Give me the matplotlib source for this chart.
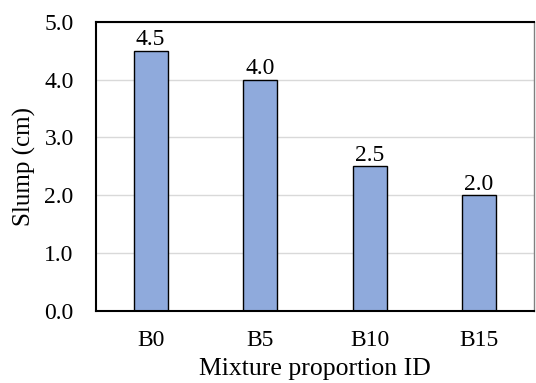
import matplotlib.pyplot as plt

plt.rcParams['font.family'] = ['Liberation Serif', 'DejaVu Serif']

mixes = ['B0', 'B5', 'B10', 'B15']
slump = [4.5, 4.0, 2.5, 2.0]

fig = plt.figure(figsize=(5.36, 3.83), dpi=100)
ax = fig.add_axes([0.179, 0.188, 0.817, 0.755])

ax.grid(axis='y', color='#d9d9d9', linewidth=1)
ax.set_axisbelow(True)
bars = ax.bar(mixes, slump, width=0.31, color='#8faadc', edgecolor='black', linewidth=1)
for b, v in zip(bars, slump):
    ax.text(b.get_x() + b.get_width() / 2, v + 0.01, f'{v:.1f}', ha='center', va='bottom', fontsize=17)

ax.set_ylim(0, 5)
ax.set_xlim(-0.5, 3.5)
ax.set_yticks([0, 1, 2, 3, 4, 5])
ax.set_yticklabels([f'{t:.1f}' for t in [0, 1, 2, 3, 4, 5]])
ax.tick_params(axis='both', length=0, labelsize=17)
ax.tick_params(axis='y', pad=16)
ax.tick_params(axis='x', pad=14)
ax.set_ylabel('Slump (cm)', fontsize=18, labelpad=6)
ax.set_xlabel('Mixture proportion ID', fontsize=18.5, labelpad=5)

for s in ax.spines.values():
    s.set_color('black')
    s.set_linewidth(1.5)
ax.spines['right'].set_color('#808080')
ax.spines['right'].set_linewidth(1)

fig.savefig('out.png', dpi=100)
